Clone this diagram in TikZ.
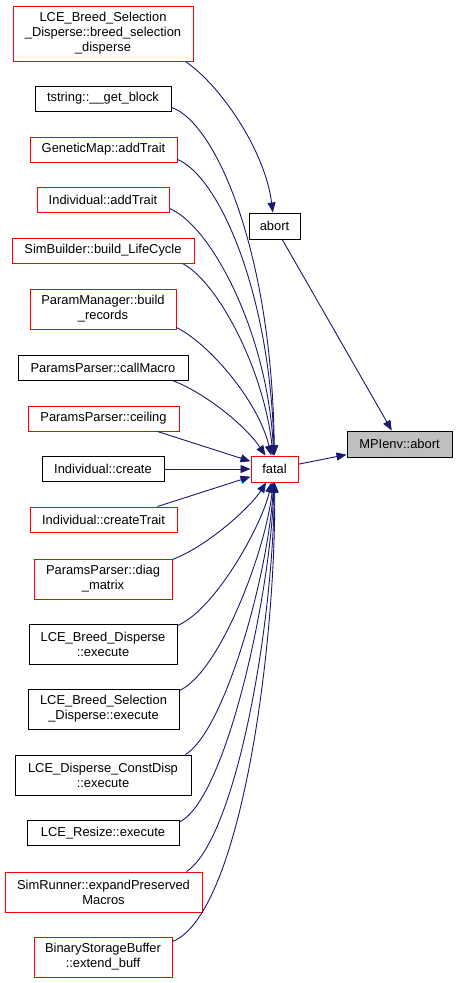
\documentclass[tikz,border=0pt]{standalone}
\usepackage{fontspec}
\setmainfont{Liberation Sans}
\usetikzlibrary{arrows.meta,calc}
\definecolor{edgeblue}{HTML}{191970}
\definecolor{nodegrey}{HTML}{BFBFBF}
\tikzset{
  box/.style={draw=black, line width=1pt, fill=white, inner sep=0pt, align=center,
    font=\fontsize{12.9}{15}\selectfont, text=black},
  redbox/.style={box, draw=red},
  mainbox/.style={box, fill=nodegrey},
  edge/.style={draw=edgeblue, line width=0.9pt, -{Triangle[length=10pt,width=8pt]}},
}
\begin{document}
\begin{tikzpicture}[x=1pt,y=-1pt]
\useasboundingbox (0,0) rectangle (457,983);
% left column
\node[redbox, minimum width=180pt, minimum height=55pt] (bsd) at (103,33.5) {LCE\_Breed\_Selection\\\_Disperse::breed\_selection\\\_disperse};
\node[box, minimum width=136pt, minimum height=25pt] (getblock) at (103,98.5) {tstring::\_\_get\_block};
\node[redbox, minimum width=147pt, minimum height=25pt] (gmadd) at (103.5,149.5) {GeneticMap::addTrait};
\node[redbox, minimum width=132pt, minimum height=25pt] (indadd) at (103,199.5) {Individual::addTrait};
\node[redbox, minimum width=182pt, minimum height=25pt] (buildlc) at (103,250.5) {SimBuilder::build\_LifeCycle};
\node[redbox, minimum width=146pt, minimum height=40pt] (buildrec) at (103,309) {ParamManager::build\\\_records};
\node[box, minimum width=170pt, minimum height=25pt] (callmacro) at (103,367.5) {ParamsParser::callMacro};
\node[redbox, minimum width=151pt, minimum height=25pt] (ceiling) at (103.5,418.5) {ParamsParser::ceiling};
\node[box, minimum width=122pt, minimum height=25pt] (create) at (103,469) {Individual::create};
\node[redbox, minimum width=147pt, minimum height=25pt] (createtrait) at (103.5,519.5) {Individual::createTrait};
\node[redbox, minimum width=138pt, minimum height=40pt] (diag) at (103,579) {ParamsParser::diag\\\_matrix};
\node[box, minimum width=148pt, minimum height=40pt] (lbd) at (103,644) {LCE\_Breed\_Disperse\\::execute};
\node[box, minimum width=151pt, minimum height=40pt] (lbsd) at (103.5,709) {LCE\_Breed\_Selection\\\_Disperse::execute};
\node[box, minimum width=176pt, minimum height=40pt] (ldc) at (103,775) {LCE\_Disperse\_ConstDisp\\::execute};
\node[box, minimum width=152pt, minimum height=25pt] (resize) at (103,833) {LCE\_Resize::execute};
\node[redbox, minimum width=197pt, minimum height=40pt] (expand) at (103.5,892) {SimRunner::expandPreserved\\Macros};
\node[redbox, minimum width=138pt, minimum height=40pt] (extend) at (103,957) {BinaryStorageBuffer\\::extend\_buff};
% middle / right
\node[box, minimum width=51pt, minimum height=26pt] (abort) at (274.5,226) {abort};
\node[redbox, minimum width=47pt, minimum height=26pt] (fatal) at (274.5,469) {fatal};
\node[mainbox, minimum width=105pt, minimum height=26pt] (mpi) at (399.5,444) {MPIenv::abort};
% edges
\draw[edge] ($(bsd.south east)+(-8,0)$) .. controls (220,85) and (265,150) .. (abort);
\draw[edge] (abort) -- (mpi);
\draw[edge] (fatal) -- (mpi);
\draw[edge] ($(getblock.south east)+(0,-4)$) .. controls (215,122) and (272,250) .. (fatal);
\draw[edge] ($(gmadd.south east)+(0,-3)$) .. controls (218,176) and (270,290) .. (fatal);
\draw[edge] ($(indadd.south east)+(0,-4)$) .. controls (210,225) and (267,330) .. (fatal);
\draw[edge] ($(buildlc.south east)+(-12,0)$) .. controls (218,282) and (264,370) .. (fatal);
\draw[edge] ($(buildrec.south east)+(0,-2)$) .. controls (208,343) and (258,400) .. (fatal);
\draw[edge] ($(callmacro.south east)+(-16,0)$) .. controls (205,393) and (245,425) .. (fatal);
\draw[edge] ($(ceiling.south east)+(-22,0)$) -- (fatal);
\draw[edge] (create) -- (fatal);
\draw[edge] ($(createtrait.north east)+(-20,0)$) -- (fatal);
\draw[edge] ($(diag.north east)+(0,1)$) .. controls (210,545) and (252,505) .. (fatal);
\draw[edge] ($(lbd.north east)+(0,2)$) .. controls (215,610) and (262,525) .. (fatal);
\draw[edge] ($(lbsd.north east)+(0,2)$) .. controls (220,672) and (266,550) .. (fatal);
\draw[edge] ($(ldc.north east)+(-6,0)$) .. controls (225,730) and (268,575) .. (fatal);
\draw[edge] ($(resize.north east)+(0,2)$) .. controls (225,800) and (270,600) .. (fatal);
\draw[edge] ($(expand.north east)+(-16,0)$) .. controls (235,840) and (273,630) .. (fatal);
\draw[edge] ($(extend.north east)+(0,5)$) .. controls (240,915) and (276,650) .. (fatal);
\end{tikzpicture}
\end{document}
